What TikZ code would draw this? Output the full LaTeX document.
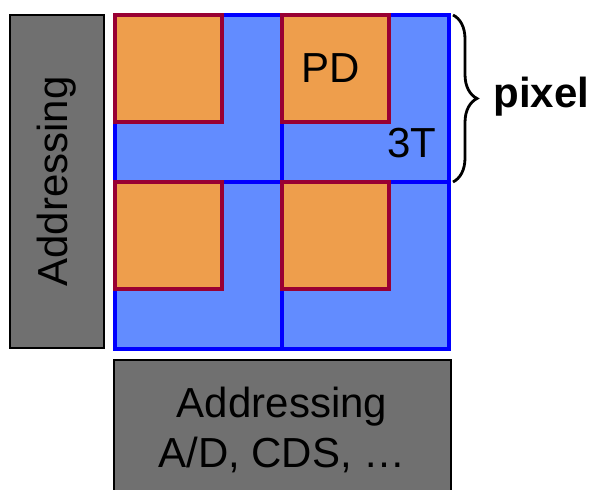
\documentclass[tikz,border=0pt]{standalone}
\usepackage{fontspec}
\setmainfont{Liberation Sans}
\usetikzlibrary{positioning,calc,decorations.pathreplacing}
\definecolor{cellblue}{RGB}{98,140,255}
\definecolor{pdorange}{RGB}{238,158,76}
\definecolor{pdred}{RGB}{153,0,51}
\definecolor{boxgray}{RGB}{112,112,112}

\begin{document}
\begin{tikzpicture}[
  x=0.5pt,y=-0.5pt,
  font=\fontsize{21}{25}\selectfont,
  cell/.style={draw=blue,fill=cellblue,line width=2pt,minimum size=83.5pt,inner sep=0pt,outer sep=0pt},
  pd/.style={draw=pdred,fill=pdorange,line width=1.8pt,minimum size=53.5pt,inner sep=0pt,outer sep=0pt,anchor=north west},
  addrbox/.style={draw=black,fill=boxgray,line width=1pt,align=center,inner sep=0pt,outer sep=0pt}]

\useasboundingbox (0,0) rectangle (597,490);

% pixel grid
\node[cell] (c11) at (198.5,98.5) {};
\node[cell,right=0pt of c11] (c12) {};
\node[cell,below=0pt of c11] (c21) {};
\node[cell,right=0pt of c21] (c22) {};

% photodiodes
\node[pd] (pd11) at (c11.north west) {};
\node[pd] (pd12) at (c12.north west) {\hspace*{-5pt}PD};
\node[pd] (pd21) at (c21.north west) {};
\node[pd] (pd22) at (c22.north west) {};
\node (tt) at (412,143) {3T};

% addressing blocks
\node[addrbox,minimum width=47pt,minimum height=166.5pt,below left=0pt and 5.5pt of c11.north west] (rowaddr) {\rotatebox{90}{Addressing}};
\node[addrbox,minimum width=168.5pt,minimum height=70pt,below=5.5pt of c21.south east] (coladdr) {Addressing\\A/D, CDS, \ldots};

% pixel brace
\coordinate (btop) at ($(c12.north east)+(4,0)$);
\coordinate (bbot) at ($(c12.south east)+(4,0)$);
\draw[decorate,decoration={brace,amplitude=12pt},line width=1.4pt] (btop) -- (bbot);
\node[font=\fontsize{21}{25}\selectfont\bfseries,anchor=west,inner sep=0pt] (pixlbl) at (493,97) {pixel};
\end{tikzpicture}
\end{document}
